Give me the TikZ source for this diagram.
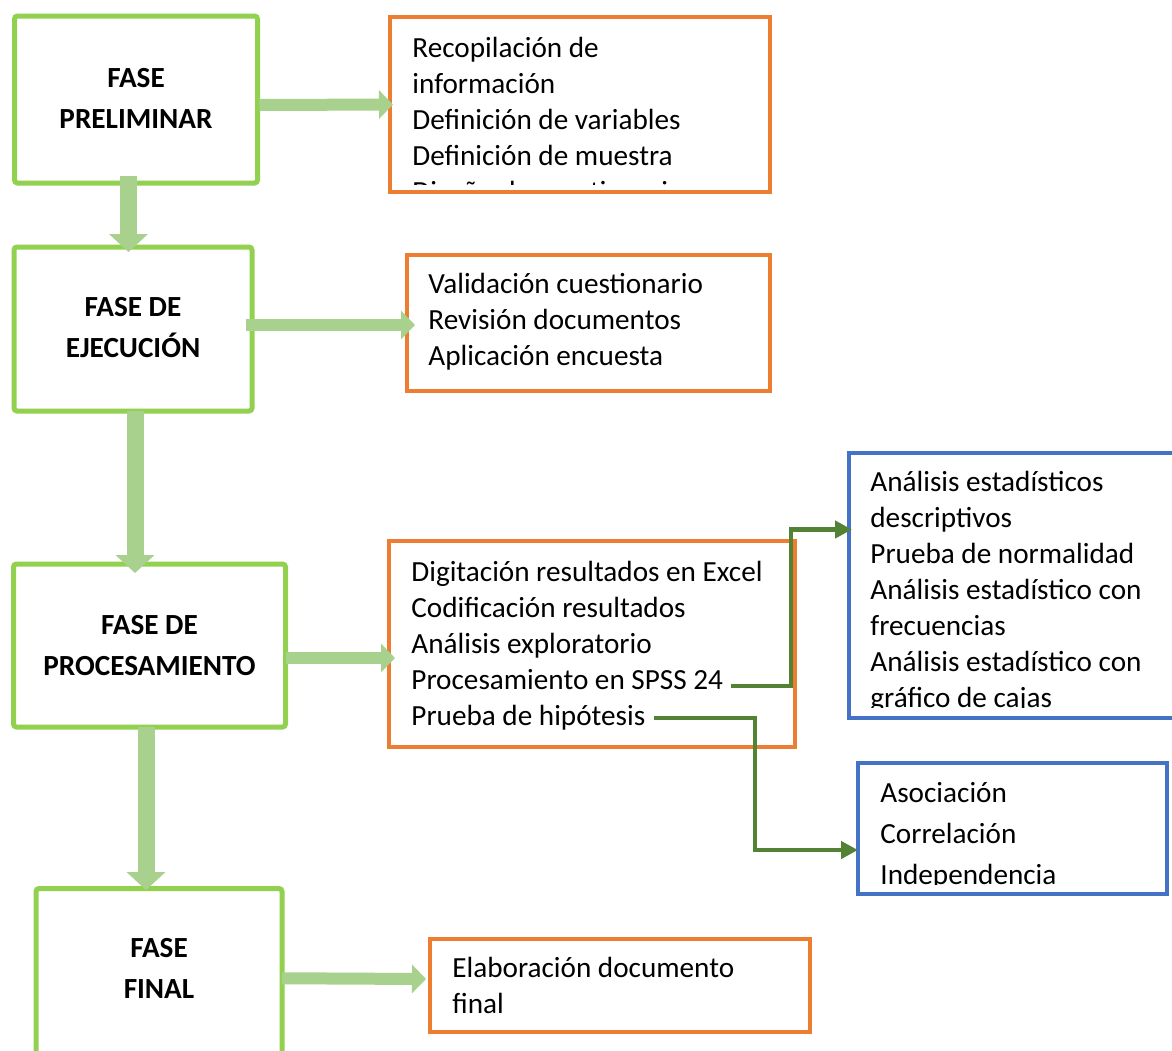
\documentclass[tikz,border=0pt]{standalone}
\usepackage{fontspec}
\setmainfont{Carlito}
\usepackage{tikz}
\usetikzlibrary{arrows.meta, positioning, calc, fit}
\definecolor{phasegreen}{HTML}{92D050}
\definecolor{flowgreen}{HTML}{A9D18E}
\definecolor{taskorange}{HTML}{ED7D31}
\definecolor{detailblue}{HTML}{4472C4}
\definecolor{branchgreen}{HTML}{548235}
\tikzset{
  phaseblock/.style={
    rectangle, draw=phasegreen, line width=2.5pt, fill=white,
    rounded corners=1.5pt, inner sep=0pt, outer sep=0pt
  },
  phaselabel/.style={inner sep=0pt, align=center, font=\fontsize{14.6}{20.5}\selectfont\bfseries},
  taskblock/.style={rectangle, draw=taskorange, line width=2pt, fill=white, inner sep=0pt, outer sep=0pt},
  detailblock/.style={rectangle, draw=detailblue, line width=1.6pt, fill=white, inner sep=0pt, outer sep=0pt},
  tasktext/.style={anchor=north west, inner sep=0pt, align=left, font=\fontsize{14.6}{18}\selectfont},
  phaseflow/.style={draw=flowgreen, line width=6pt, -{Triangle[length=7pt, width=14pt]}},
  phasedown/.style={draw=flowgreen, line width=8.5pt, -{Triangle[length=9pt, width=19pt]}},
  branchline/.style={draw=branchgreen, line width=2.4pt, -{Triangle[length=8.5pt, width=8.5pt]}}
}
\begin{document}
\begin{tikzpicture}[x=0.5pt, y=-0.5pt]
  \path[use as bounding box, fill=white] (0,0) rectangle (1172,1050);
  \clip (0,0) rectangle (1172,1050);

  \node[phaseblock, fit={(14.5,16) (257.5,183)}] (pre) {};
  \node[phaseblock, fit={(14,247) (252,411)}] (eje) {};
  \node[phaseblock, fit={(13.5,564) (285.5,727)}] (proc) {};
  \node[phaseblock, fit={(36,888.5) (282,1058)}] (fin) {};
  \node[phaselabel, below=21pt of pre.north] (prename) {\strut FASE\\PRELIMINAR};
  \node[phaselabel, below=20pt of eje.north] (ejename) {\strut FASE DE\\EJECUCIÓN};
  \node[phaselabel, below=20.5pt of proc.north] (procname) {\strut FASE DE\\PROCESAMIENTO};
  \node[phaselabel, below=20pt of fin.north] (finname) {\strut FASE\\FINAL};

  \node[taskblock, fit={(390,17) (770,192)}] (prelist) {};
  \node[taskblock, fit={(407,255) (770,391)}] (ejelist) {};
  \node[taskblock, fit={(389,541) (795,747)}] (proclist) {};
  \node[taskblock, fit={(430,939) (810,1032)}] (finlist) {};
  \node[detailblock, fit={(849,453) (1185,718)}] (desc) {};
  \node[detailblock, fit={(858,763) (1167,894)}] (hipo) {};

  \begin{scope}
    \clip (prelist.north west) rectangle ($(prelist.south east)+(0,-8)$);
    \node[tasktext] at ($(prelist.north west)+(22,14.8)$) {\strut Recopilación de\\información\\Definición de variables\\Definición de muestra\\Diseño de cuestionario};
  \end{scope}
  \node[tasktext] at ($(ejelist.north west)+(21,12.8)$) {\strut Validación cuestionario\\Revisión documentos\\Aplicación encuesta};
  \node[tasktext] at ($(proclist.north west)+(22,14.8)$) {\strut Digitación resultados en Excel\\Codificación resultados\\Análisis exploratorio\\Procesamiento en SPSS 24\\Prueba de hipótesis};
  \node[tasktext] at ($(finlist.north west)+(22,12.8)$) {\strut Elaboración documento\\final};
  \begin{scope}
    \clip (desc.north west) rectangle ($(desc.south east)+(0,-11)$);
    \node[tasktext] at ($(desc.north west)+(21,12.5)$) {\strut Análisis estadísticos\\descriptivos\\Prueba de normalidad\\Análisis estadístico con\\frecuencias\\Análisis estadístico con\\gráfico de cajas};
  \end{scope}
  \begin{scope}
    \clip (hipo.north west) rectangle ($(hipo.south east)+(0,-10)$);
    \node[tasktext, font=\fontsize{14.6}{20.5}\selectfont] at ($(hipo.north west)+(22,10)$) {\strut Asociación\\Correlación\\Independencia};
  \end{scope}

  \coordinate (spss) at (731,686);
  \coordinate (prueba) at (654,718);

  \draw[phaseflow] ($(pre.east)+(2,5.5)$) -- ($(prelist.west)+(3,0)$);
  \draw[phaseflow] ($(eje.east |- ejelist.west)+(-6,2)$) -- ($(ejelist.west)+(8,2)$);
  \draw[phaseflow] ($(proc.east)+(0,12.5)$) -- ($(proclist.west)+(6,14)$);
  \draw[phaseflow] ($(fin.east)+(0,5)$) -- ($(finlist.west)+(-4,-6.5)$);

  \draw[phasedown] ($(pre.south)+(-7.5,-7)$) -- ($(pre.south |- eje.north)+(-7.5,5)$);
  \draw[phasedown] ($(eje.south)+(2,0)$) -- ($(eje.south |- proc.north)+(2,9)$);
  \draw[phasedown] ($(proc.south)+(-3.5,0)$) -- ($(proc.south |- fin.north)+(-3.5,1.5)$);

  \draw[branchline] (spss) -- ++(60,0) |- ($(desc.west)+(3,-56)$);
  \draw[branchline] (prueba) -- ++(101,0) |- ($(hipo.west)+(0,21.5)$);
\end{tikzpicture}
\end{document}
